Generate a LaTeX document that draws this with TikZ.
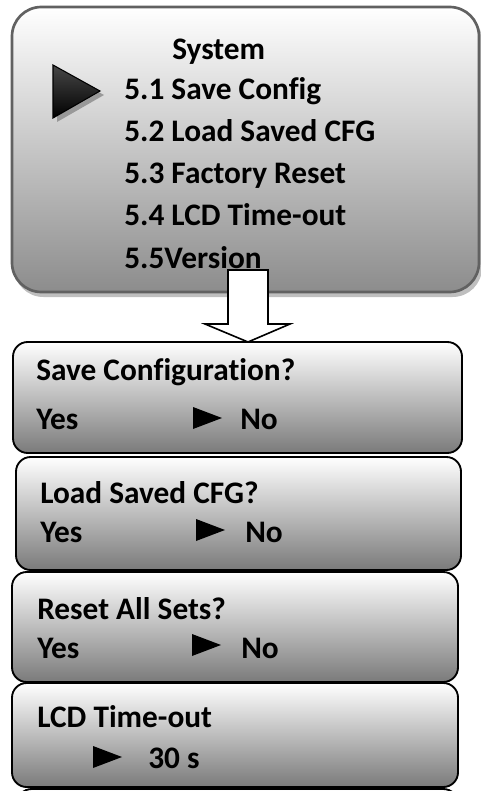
\documentclass[tikz,border=0pt]{standalone}
\usepackage{fontspec}
\setmainfont{Carlito}[Ligatures=NoCommon]
\usetikzlibrary{arrows.meta,
                calc,
                fit,
                positioning}

\begin{document}
\begin{tikzpicture}[x=0.75pt, y=-0.75pt,
    every node/.style={inner sep=0pt, font=\fontsize{23.5}{28}\selectfont\bfseries},
    menu/.style={rounded corners=22pt, draw=black!62, line width=2pt,
                 top color=white, bottom color=black!45},
    dialog/.style={rounded corners=11pt, draw=black, line width=1.4pt,
                   top color=white, bottom color=black!52},
    item/.style={anchor=base west},
    hollow/.style={draw=black, fill=white, line width=1.2pt, line join=miter},
    cursor/.pic={\fill (0,-11) -- (29,0) -- (0,11) -- cycle;},
    bigcursor/.pic={
      \fill[black!40] (4,-22) -- (51,4) -- (4,31) -- cycle;
      \draw[top color=black!72, bottom color=black, line width=0.8pt] (0,-26) -- (47,0) -- (0,27) -- cycle;}]
   \useasboundingbox (0,0) rectangle (481,791);
   \clip (0,0) rectangle (481,791);
   % main menu
   \fill[black!25, rounded corners=22pt] (14,11) rectangle (482,297);
   \node[menu, fit={(12,7) (479,292)}] (system) {};
   \node[item] (title) at (172,60) {System};
   \pic at (53,91) {bigcursor};
   \node[item] (m1) at (124,100) {5.1 Save Config};
   \node[item] (m2) at (124,142) {5.2 Load Saved CFG};
   \node[item] (m3) at (124,184) {5.3 Factory Reset};
   \node[item] (m4) at (124,226) {5.4 LCD Time-out};
   \node[item] (m5) at (124,268) {5.5Version};
   % sub menus
   \node[dialog, fit={(13,342) (462,453)}] (save) {};
   \node[item] (saveq) at (36,380) {Save Configuration?};
   \node[item] (saveyes) at (36,429) {Yes};
   \pic at (193,418) {cursor};
   \node[item] (saveno) at (240,429) {No};

   \node[dialog, fit={(16,457) (461,570)}] (load) {};
   \node[item] (loadq) at (40,503) {Load Saved CFG?};
   \node[item] (loadyes) at (40,542) {Yes};
   \pic at (196,530) {cursor};
   \node[item] (loadno) at (245,542) {No};

   \node[dialog, fit={(12,572) (458,682)}] (reset) {};
   \node[item] (resetq) at (37,619) {Reset All Sets?};
   \node[item] (resetyes) at (37,658) {Yes};
   \pic at (192,645) {cursor};
   \node[item] (resetno) at (241,658) {No};

   \node[dialog, fit={(12,683) (458,787)}] (lcd) {};
   \node[item] (lcdq) at (37,727) {LCD Time-out};
   \pic at (93,757) {cursor};
   \node[item] (lcdval) at (148,768) {30 s};

   \node[dialog, fit={(17,789) (458,870)}] (version) {};
   % block arrow
   \coordinate (tip) at (248,342);
   \draw[hollow] ($(tip)+(-20,-72)$) -- ($(tip)+(-20,-18)$) -- ($(tip)+(-43,-18)$) -- (tip)
      -- ($(tip)+(42,-18)$) -- ($(tip)+(20,-18)$) -- ($(tip)+(20,-72)$) -- cycle;
\end{tikzpicture}
\end{document}
